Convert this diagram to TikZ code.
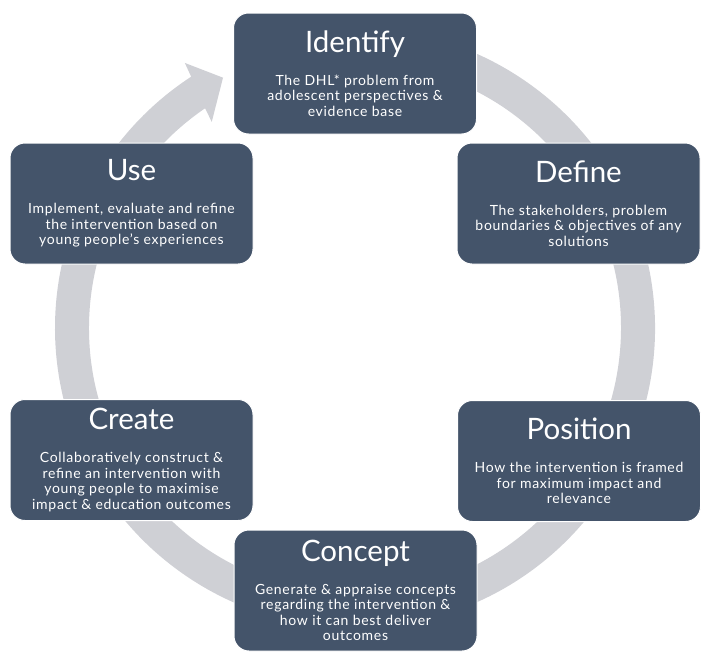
\documentclass[tikz,border=0pt]{standalone}
\usepackage{fontspec}
\setmainfont{Lato}
\newfontfamily\bodyfam[LetterSpace=5]{Lato}
\usetikzlibrary{calc}
\definecolor{boxc}{HTML}{44546A}
\definecolor{ringc}{HTML}{CFD0D5}
\newcommand{\stepcontent}[2]{\parbox{236pt}{\centering\raisebox{0pt}[\height][0pt]{\fontsize{29.5}{30}\selectfont #1}\par\nointerlineskip\bodyfam\fontsize{14}{15.5}\selectfont\rule{0pt}{33pt}#2\par}}
\begin{document}
\begin{tikzpicture}[x=1pt,y=1pt,
  stepbox/.style={rounded corners=15pt, fill=boxc, draw=white, line width=1pt,
    minimum width=243pt, minimum height=121pt, inner sep=0pt, text=white}]
\useasboundingbox (0,0) rectangle (710,-664);
\coordinate (C) at (355,-328);
% ring arrow
\fill[ringc] ($(C)+(100:300)$) arc[start angle=100, end angle=-236.9, radius=300]
  -- ($(C)+(122.7:315)$) -- ($(C)+(117.8:283)$) -- ($(C)+(124.8:251)$)
  -- ($(C)+(124.3:266)$) arc[start angle=-235.7, end angle=100, radius=266] -- cycle;
% boxes
\node[stepbox] (identify) at (355,-73.5) {\stepcontent{Identify}{The DHL* problem from\\adolescent perspectives \&\\evidence base}};
\node[stepbox] (define) at (578.5,-203.5) {\stepcontent{Define}{The stakeholders, problem\\boundaries \& objectives of any\\solutions}};
\node[stepbox] (position) at (579,-461) {\stepcontent{Position}{How the intervention is framed\\for maximum impact and\\relevance}};
\node[stepbox] (concept) at (355.5,-590.5) {\stepcontent{Concept}{Generate \& appraise concepts\\regarding the intervention \&\\how it can best deliver\\outcomes}};
\node[stepbox] (create) at (131.5,-460) {\stepcontent{Create}{Collaboratively construct \&\\refine an intervention with\\young people to maximise\\impact \& education outcomes}};
\node[stepbox] (use) at (131.5,-203.5) {\stepcontent{Use}{Implement, evaluate and refine\\the intervention based on\\young people’s experiences}};
\end{tikzpicture}
\end{document}
